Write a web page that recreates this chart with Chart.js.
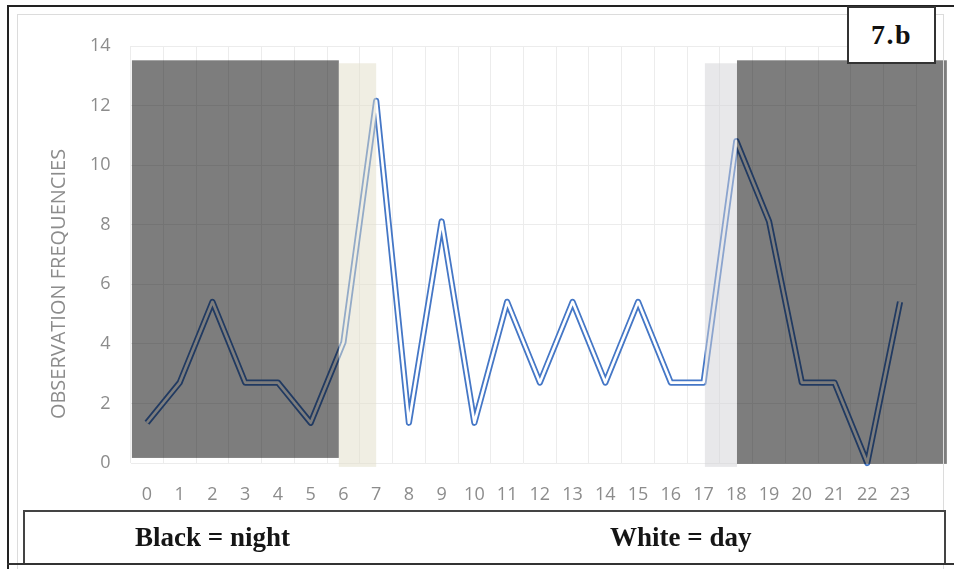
<!DOCTYPE html>
<html>
<head>
<meta charset="utf-8">
<script src="https://cdn.jsdelivr.net/npm/chart.js@4.4.0/dist/chart.umd.min.js"></script>
<style>
  html, body { margin: 0; padding: 0; background: #fff; }
  #wrap { position: relative; width: 954px; height: 569px; overflow: hidden; background: #fff; }
  #c { position: absolute; left: 0; top: 0; }
  .frameTop { position: absolute; left: 7px; top: 5px; width: 947px; height: 2px; background: #222; }
  .frameLeft { position: absolute; left: 7px; top: 5px; width: 2px; height: 564px; background: #222; }
  .frameBottom { position: absolute; left: 7px; top: 563px; width: 947px; height: 2px; background: #333; }
  .inner { position: absolute; left: 17px; top: 14px; width: 927px; height: 560px; border: 1px solid #dcdcdc; box-sizing: border-box; }
  #ytitle { position: absolute; left: 57px; top: 284px; transform: translate(-50%, -50%) rotate(-90deg);
            font-family: 'Open Sans', sans-serif; font-size: 20px; color: #8c8c8c; white-space: nowrap; }
  #tag { position: absolute; left: 847px; top: 6px; width: 89px; height: 58px; box-sizing: border-box;
         border: 2px solid #333; background: #fff; display: flex; align-items: center; justify-content: center;
         font-family: 'Liberation Serif', 'Times New Roman', serif; font-weight: bold; font-size: 28px; color: #111; letter-spacing: 1.5px; }
  #legendBox { position: absolute; left: 23px; top: 510px; width: 923px; height: 55px; box-sizing: border-box;
               border: 2px solid #444; border-bottom: none; background: #fff; }
  .legTxt { position: absolute; top: 522px; font-family: 'Liberation Serif', 'Times New Roman', serif;
            font-weight: bold; font-size: 27px; color: #151515; white-space: nowrap; line-height: 30px; }
</style>
</head>
<body>
<div id="wrap">
  <canvas id="c" width="954" height="569"></canvas>
  <div class="inner"></div>
  <div class="frameTop"></div>
  <div class="frameLeft"></div>
  <div id="ytitle">OBSERVATION FREQUENCIES</div>
  <div id="tag">7.b</div>
  <div id="legendBox"></div>
  <div class="legTxt" style="left:135px;">Black = night</div>
  <div class="legTxt" style="left:610px;">White = day</div>
  <div class="frameBottom"></div>
</div>
<script>
// ---- data ----
const hours = ['0','1','2','3','4','5','6','7','8','9','10','11','12','13','14','15','16','17','18','19','20','21','22','23'];
const frequencies = [1.35, 2.70, 5.41, 2.70, 2.70, 1.35, 4.05, 12.16, 1.35, 8.11, 1.35, 5.41, 2.70, 5.41, 2.70, 5.41, 2.70, 2.70, 10.81, 8.11, 2.70, 2.70, 0, 5.41];
const yTickValues = [0, 2, 4, 6, 8, 10, 12, 14];

// shaded periods (in hour-index / value units)
const bandStart  = [-0.46, 5.86, 17.04, 18.02];
const bandEnd    = [5.86, 7.00, 18.02, 24.43];
const bandTop    = [13.52, 13.42, 13.42, 13.52];
const bandBottom = [0.17, -0.13, -0.13, -0.03];
const bandColors = ['rgba(0,0,0,0.51)', 'rgba(225,221,200,0.5)', 'rgba(209,209,213,0.5)', 'rgba(0,0,0,0.51)'];

const bandsPlugin = {
  id: 'bands',
  afterDatasetsDraw(chart) {
    const { ctx, scales: { x, y } } = chart;
    ctx.save();
    for (let i = 0; i < bandStart.length; i++) {
      const x0 = x.getPixelForValue(bandStart[i]);
      const x1 = x.getPixelForValue(bandEnd[i]);
      const y0 = y.getPixelForValue(bandTop[i]);
      const y1 = y.getPixelForValue(bandBottom[i]);
      ctx.fillStyle = bandColors[i];
      ctx.fillRect(x0, y0, x1 - x0, y1 - y0);
    }
    ctx.restore();
  }
};

const tickFont = { family: "'Open Sans', sans-serif", size: 18 };

new Chart(document.getElementById('c'), {
  type: 'line',
  data: {
    labels: hours,
    datasets: [
      // inner white stroke (drawn on top)
      { data: frequencies, borderColor: '#ffffff', borderWidth: 2.6, pointRadius: 0, tension: 0,
        borderJoinStyle: 'round', fill: false, clip: false, order: 0 },
      // outer blue stroke
      { data: frequencies, borderColor: '#4577c6', borderWidth: 6.2, pointRadius: 0, tension: 0,
        borderJoinStyle: 'round', fill: false, clip: false, order: 1 }
    ]
  },
  options: {
    responsive: false,
    animation: false,
    devicePixelRatio: 1,
    layout: { padding: { left: 0, top: 46, right: 37.6, bottom: 56 } },
    plugins: { legend: { display: false }, tooltip: { enabled: false }, title: { display: false } },
    scales: {
      x: {
        type: 'category',
        offset: true,
        grid: { offset: true, color: '#ececec', drawTicks: false, lineWidth: 1 },
        border: { display: false },
        ticks: { color: '#8c8c8c', font: tickFont, padding: 21, maxRotation: 0, autoSkip: false },
        afterFit(s) { s.height = 50; }
      },
      y: {
        min: 0, max: 14,
        afterBuildTicks(s) { s.ticks = yTickValues.map(v => ({ value: v })); },
        grid: { color: '#ececec', drawTicks: false, lineWidth: 1 },
        border: { display: false },
        ticks: { color: '#8c8c8c', font: tickFont, padding: 20 },
        afterFit(s) { s.width = 130.6; }
      }
    }
  },
  plugins: [bandsPlugin]
});
</script>
</body>
</html>
